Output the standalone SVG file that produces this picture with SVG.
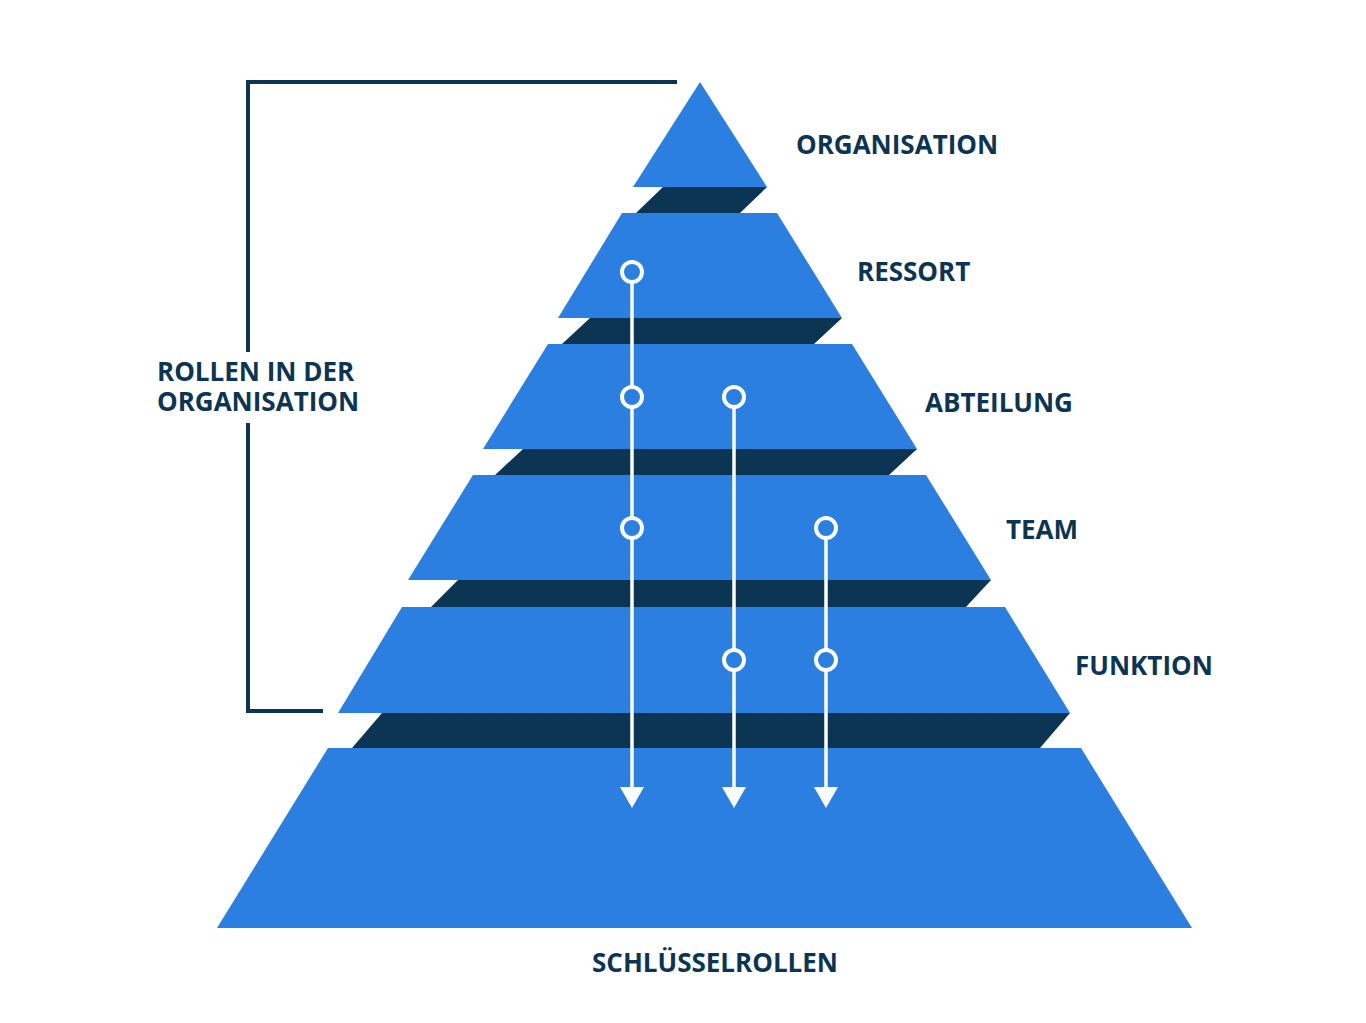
<svg xmlns="http://www.w3.org/2000/svg" width="1366" height="1023" viewBox="0 0 1366 1023">
<style>
.lvl{fill:#2b7fe1}
.shd{fill:#0b3552}
.lbl{font-family:"Open Sans","Liberation Sans",sans-serif;font-weight:700;font-size:26px;fill:#0b3552}
.brk{fill:none;stroke:#0b3552;stroke-width:4}
.flow{stroke:#fff;stroke-width:3.5;fill:none}
.dot{fill:#2b7fe1;stroke:#fff;stroke-width:4}
.head{fill:#fff}
</style>
<rect width="1366" height="1023" fill="#fff"/>
<g id="shadows">
<polygon class="shd" points="663,187 767,187 740,213 636,213"/>
<polygon class="shd" points="590,318 842,318 814,344 562,344"/>
<polygon class="shd" points="523,449 917,449 889,475 495,475"/>
<polygon class="shd" points="458,580 991,580 966,607 431,607"/>
<polygon class="shd" points="382,713 1070,713 1040,748 352,748"/>
</g>
<g id="organisation"><polygon class="lvl" points="700,82 767,187 633,187"/><text class="lbl" x="796" y="154">ORGANISATION</text></g>
<g id="ressort"><polygon class="lvl" points="622,213 777,213 842,318 558,318"/><text class="lbl" x="857" y="281">RESSORT</text></g>
<g id="abteilung"><polygon class="lvl" points="548,344 852,344 917,449 483,449"/><text class="lbl" x="925" y="412">ABTEILUNG</text></g>
<g id="team"><polygon class="lvl" points="473,475 926,475 991,580 408,580"/><text class="lbl" x="1006" y="539">TEAM</text></g>
<g id="funktion"><polygon class="lvl" points="402,607 1005,607 1070,713 338,713"/><text class="lbl" x="1075" y="675">FUNKTION</text></g>
<g id="schluesselrollen"><polygon class="lvl" points="328,748 1081,748 1192,928 217,928"/><text class="lbl" x="715" y="972" text-anchor="middle">SCHLÜSSELROLLEN</text></g>
<g id="rollen">
<path class="brk" d="M677,82 H248 V352 M248,423 V711 H323"/>
<text class="lbl" x="157" y="381"><tspan x="157" y="381">ROLLEN IN DER</tspan><tspan x="157" y="411">ORGANISATION</tspan></text>
</g>
<g id="connectors">
<path class="flow" d="M632,282 V790"/>
<path class="flow" d="M734,407 V790"/>
<path class="flow" d="M826,538 V790"/>
<polygon class="head" points="620,787 644,787 632,808"/>
<polygon class="head" points="722,787 746,787 734,808"/>
<polygon class="head" points="814,787 838,787 826,808"/>
<circle class="dot" cx="632" cy="272" r="10"/>
<circle class="dot" cx="632" cy="397" r="10"/>
<circle class="dot" cx="632" cy="528" r="10"/>
<circle class="dot" cx="734" cy="397" r="10"/>
<circle class="dot" cx="734" cy="660" r="10"/>
<circle class="dot" cx="826" cy="528" r="10"/>
<circle class="dot" cx="826" cy="660" r="10"/>
</g>
</svg>
